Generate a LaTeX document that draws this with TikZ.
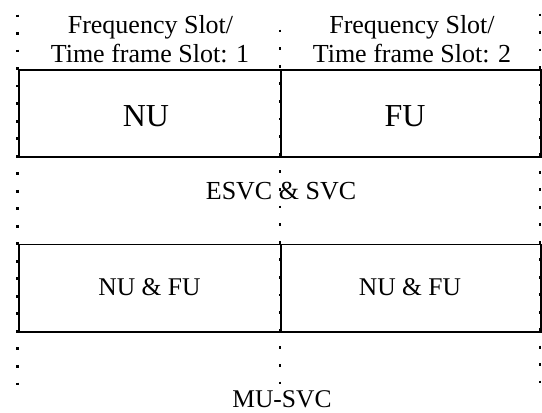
\documentclass[tikz,border=0pt]{standalone}
\usepackage{fontspec}
\setmainfont{Liberation Serif}
\begin{document}
\begin{tikzpicture}[x=1pt,y=-1pt,
  frame/.style={line width=1.6pt, draw=black},
  dotline/.style={line width=2.8pt, line cap=butt, dash pattern=on 2.8pt off #1},
  lbl/.style={inner sep=0pt, anchor=base, font=\fontsize{26}{30}\selectfont},
  big/.style={inner sep=0pt, anchor=base, font=\fontsize{32}{36}\selectfont},
  mid/.style={inner sep=0pt, anchor=base, font=\fontsize{26}{30}\selectfont}]
\useasboundingbox (0,0) rectangle (542,413);

% corner coordinates of the two slot rows
\coordinate (tl) at (19,70);
\coordinate (tm) at (281,70);
\coordinate (tr) at (541,70);
\coordinate (bl) at (19,157);
\coordinate (bm) at (281,157);
\coordinate (br) at (541,157);
\coordinate (tl2) at (19,244.5);
\coordinate (tm2) at (281,244.5);
\coordinate (tr2) at (541,244.5);
\coordinate (bl2) at (19,332);
\coordinate (bm2) at (281,332);
\coordinate (br2) at (541,332);

% dotted slot boundaries
\coordinate (la) at (17.5,14.6);  \coordinate (lb) at (17.5,385.5);
\coordinate (ma) at (280,29.6);   \coordinate (mb) at (280,384.5);
\coordinate (ra) at (540,13.6);   \coordinate (rb) at (540,383.5);
\draw[dotline=14.72pt] (la) -- (lb);
\draw[dotline=14.8pt] (ma) -- (mb);
\draw[dotline=14.68pt] (ra) -- (rb);

% slot frames
\draw[frame] (tl) rectangle (br);
\draw[frame] (tm) -- (bm);
\draw[frame] (tl2) rectangle (br2);
\draw[frame] (tm2) -- (bm2);

% headings
\node[lbl] (f1a) at (150.5,33.5) {Frequency Slot/};
\node[lbl] (f1b) at (150,62) {Time frame Slot: 1};
\node[lbl] (f2a) at (412,33.5) {Frequency Slot/};
\node[lbl] (f2b) at (412,62) {Time frame Slot: 2};

% row contents
\node[big] (nu) at (146,126) {NU};
\node[big] (fu) at (405,126) {FU};
\node[mid] (esvc) at (281,199) {ESVC \& SVC};
\node[mid,font=\fontsize{25.5}{30}\selectfont] (nf1) at (149.5,295.5) {NU \& FU};
\node[mid,font=\fontsize{25.5}{30}\selectfont] (nf2) at (410,295.5) {NU \& FU};
\node[mid,font=\fontsize{25.5}{30}\selectfont] (musvc) at (282,407.5) {MU-SVC};
\end{tikzpicture}
\end{document}
